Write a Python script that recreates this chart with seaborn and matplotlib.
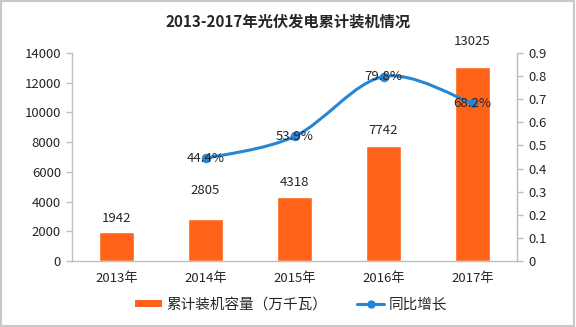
import numpy as np
import pandas as pd
import matplotlib
matplotlib.use("Agg")
import matplotlib.pyplot as plt
from matplotlib.path import Path
from matplotlib.patches import PathPatch, Rectangle
from matplotlib.lines import Line2D
import seaborn as sns

years = ["2013年", "2014年", "2015年", "2016年", "2017年"]
capacity = [1942, 2805, 4318, 7742, 13025]
growth_years = ["2014年", "2015年", "2016年", "2017年"]
growth = [0.444, 0.539, 0.798, 0.682]
growth_labels = ["44.4%", "53.9%", "79.8%", "68.2%"]
left_ticks = [0, 2000, 4000, 6000, 8000, 10000, 12000, 14000]
right_ticks = [0, 0.1, 0.2, 0.3, 0.4, 0.5, 0.6, 0.7, 0.8, 0.9]

BAR = "#FF631A"
LINE = "#2386D7"
GRID = "#BFBFBF"

sns.set_style("white")
plt.rcParams["font.family"] = ["Noto Sans CJK SC", "DejaVu Sans"]

fig = plt.figure(figsize=(5.76, 3.27), dpi=100)
ax = fig.add_axes([0.125, 0.2018, 0.7726, 0.6362])

df = pd.DataFrame({"year": years, "cap": capacity})
sns.barplot(data=df, x="year", y="cap", color=BAR, width=0.4, ax=ax,
            saturation=1, order=years)
ax.set_xlim(-0.5, 4.5)
ax.set_ylim(0, 14000)
ax.set_yticks(left_ticks)
ax.set_yticklabels([str(t) for t in left_ticks], fontsize=9.5)
ax.set_xlabel("")
ax.set_ylabel("")
ax.tick_params(axis="x", labelsize=9.5, length=0, pad=8)
ax.tick_params(axis="y", length=4, color=GRID, width=1, direction="out", pad=4)
ax.set_xticks(np.arange(-0.5, 5, 1), minor=True)
ax.tick_params(axis="x", which="minor", length=4, color=GRID, width=1)
ax.spines["top"].set_visible(False)
for s in ["left", "bottom", "right"]:
    ax.spines[s].set_color(GRID)
    ax.spines[s].set_linewidth(1)

# label offsets above the bar tops (points), placed to avoid the line labels
label_offsets = [10, 21, 10, 11, 19]
for i, v in enumerate(capacity):
    ax.annotate(str(v), (i, v), xytext=(0, label_offsets[i]), textcoords="offset points",
                ha="center", va="center", fontsize=9.5)

ax2 = ax.twinx()
ax2.set_ylim(0, 0.9)
ax2.set_yticks(right_ticks)
ax2.set_yticklabels(["0"] + [f"{t:.1f}" for t in right_ticks[1:]], fontsize=9.5)
ax2.tick_params(axis="y", length=4, color=GRID, width=1, direction="out", pad=4)
for s in ["top", "left", "bottom"]:
    ax2.spines[s].set_visible(False)
ax2.spines["right"].set_color(GRID)

xpos = np.array([years.index(y) for y in growth_years], dtype=float)
ys = np.array(growth)

# smooth curve through the data points (Catmull-Rom -> Bezier), like Excel smoothing
pts = np.column_stack([xpos, ys])
verts = [tuple(pts[0])]
codes = [Path.MOVETO]
t = 1 / 6
for i in range(len(pts) - 1):
    p0 = pts[i - 1] if i > 0 else pts[i]
    p1 = pts[i]
    p2 = pts[i + 1]
    p3 = pts[i + 2] if i + 2 < len(pts) else pts[i + 1]
    c1 = p1 + (p2 - p0) * t
    c2 = p2 - (p3 - p1) * t
    verts += [tuple(c1), tuple(c2), tuple(p2)]
    codes += [Path.CURVE4] * 3
ax2.add_patch(PathPatch(Path(verts, codes), facecolor="none", edgecolor=LINE, lw=2.2, zorder=3))
gdf = pd.DataFrame({"x": xpos, "g": ys})
sns.scatterplot(data=gdf, x="x", y="g", color=LINE, s=40, edgecolor=LINE, ax=ax2, zorder=4)
ax2.set_xlim(-0.5, 4.5)
ax2.set_xlabel("")
ax2.set_ylabel("")
for x, y, lab in zip(xpos, ys, growth_labels):
    ax2.text(x, y, lab, ha="center", va="center", fontsize=9.5, zorder=5)

handles = [Rectangle((0, 0), 1, 1, facecolor=BAR, edgecolor="none"),
           Line2D([0], [0], color=LINE, lw=2.2, marker="o", markersize=5)]
fig.legend(handles, ["累计装机容量（万千瓦）", "同比增长"], loc="center",
           bbox_to_anchor=(0.505, 0.068), ncol=2, frameon=False, fontsize=10.5,
           handlelength=1.9, handleheight=0.45, columnspacing=2.0, handletextpad=0.3)

fig.text(0.5, 0.935, "2013-2017年光伏发电累计装机情况", ha="center", va="center",
         fontsize=11, fontweight="bold")

fig.patches.append(Rectangle((0.002, 0.003), 0.995, 0.994, transform=fig.transFigure,
                             facecolor="none", edgecolor="#C8C8C8", lw=1.5))

fig.savefig("out.png", dpi=100)
